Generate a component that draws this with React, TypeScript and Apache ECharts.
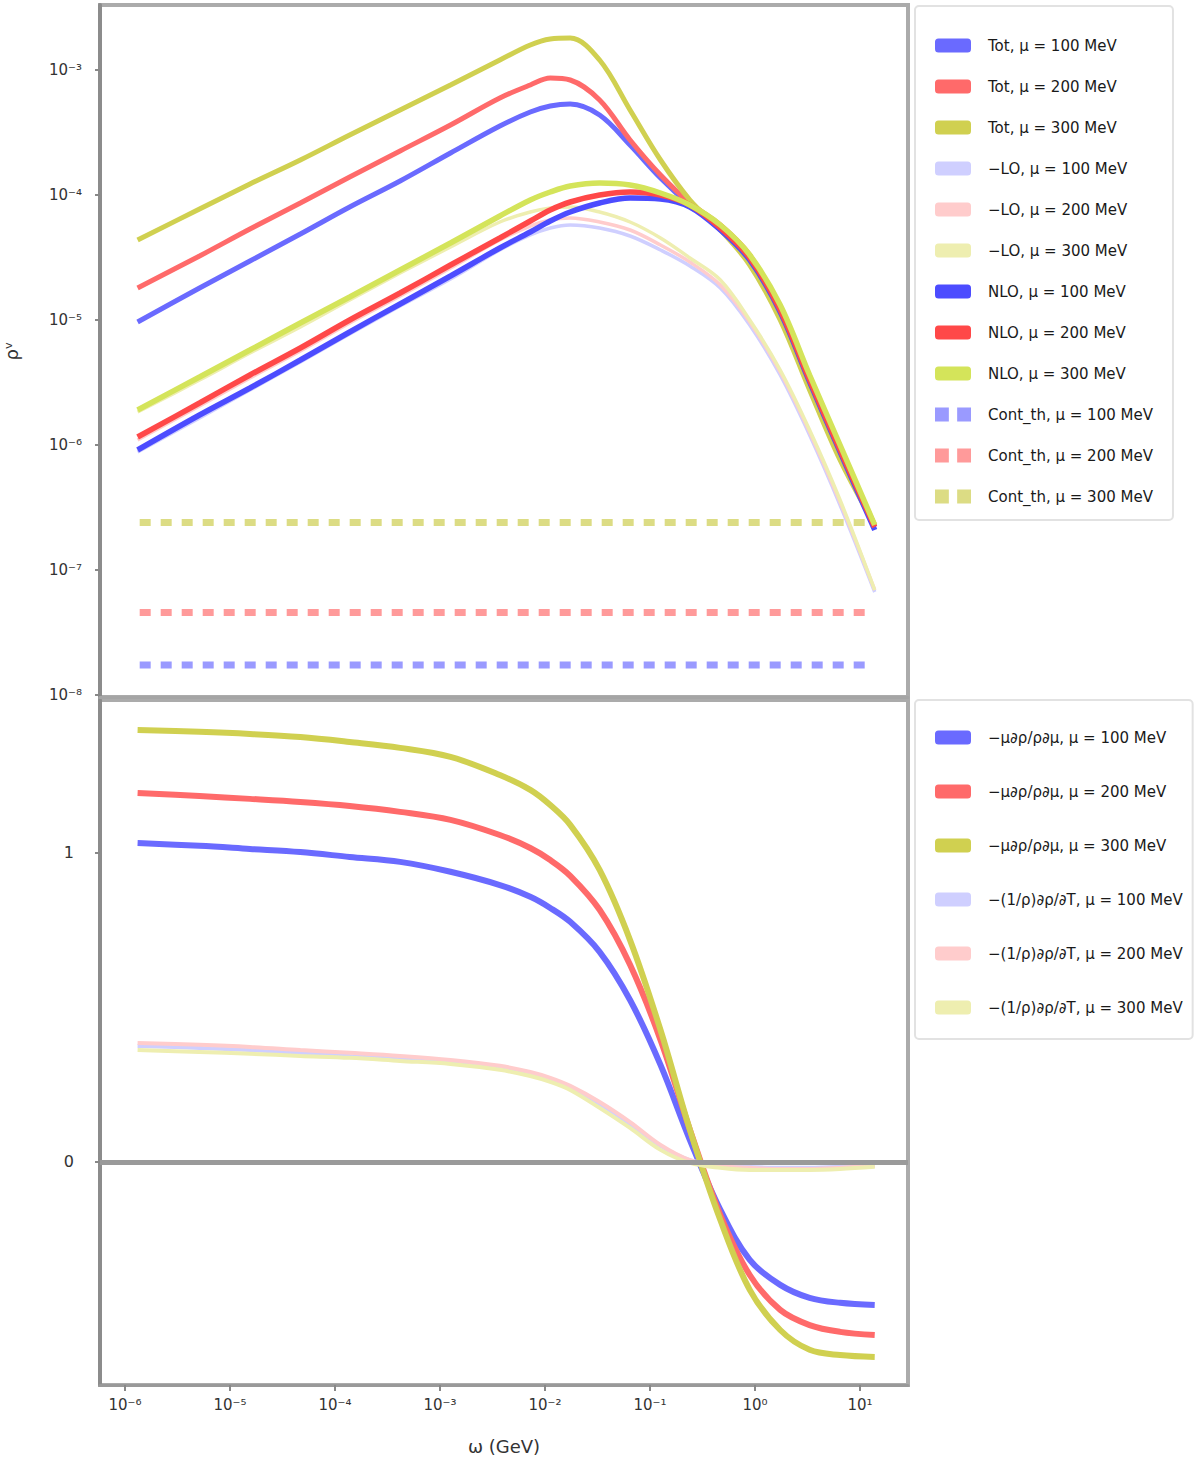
import React, { useEffect, useRef } from "react";
import * as echarts from "echarts";

// x positions (log10 of k0)
const logK = [-5.88, -5.29, -4.81, -4.33, -3.86, -3.38, -2.9, -2.43, -2.14, -1.95, -1.76, -1.48, -1.19, -0.9, -0.62, -0.33, -0.05, 0.24, 0.52, 0.81, 1.14];
const muVals = [100, 200, 300];
const xTickExps = [-6, -5, -4, -3, -2, -1, 0, 1];
const topTickExps = [-8, -7, -6, -5, -4, -3];
const bottomTicks = [0, 1];

// top panel, log10 values
const totBlue = [-5.016, -4.744, -4.528, -4.312, -4.096, -3.888, -3.664, -3.448, -3.336, -3.288, -3.272, -3.36, -3.6, -3.864, -4.08, -4.264, -4.504, -4.936, -5.496, -6.056, -6.656];
const totRed = [-4.744, -4.488, -4.272, -4.064, -3.856, -3.648, -3.44, -3.224, -3.12, -3.064, -3.08, -3.24, -3.56, -3.84, -4.064, -4.24, -4.48, -4.92, -5.48, -6.04, -6.64];
const totYellow = [-4.36, -4.112, -3.912, -3.72, -3.52, -3.32, -3.12, -2.92, -2.8, -2.752, -2.744, -2.92, -3.32, -3.72, -4.04, -4.28, -4.56, -5.0, -5.56, -6.12, -6.64];

const negBlue = [-6.056, -5.784, -5.56, -5.336, -5.112, -4.888, -4.672, -4.44, -4.32, -4.264, -4.24, -4.264, -4.328, -4.44, -4.568, -4.744, -5.04, -5.44, -5.92, -6.48, -7.176];
const negRed = [-5.96, -5.688, -5.464, -5.248, -5.024, -4.808, -4.584, -4.36, -4.248, -4.2, -4.184, -4.216, -4.28, -4.4, -4.536, -4.72, -5.016, -5.416, -5.896, -6.456, -7.16];
const negYellow = [-5.736, -5.48, -5.264, -5.056, -4.84, -4.624, -4.416, -4.216, -4.136, -4.104, -4.096, -4.136, -4.216, -4.344, -4.504, -4.68, -5.0, -5.4, -5.88, -6.44, -7.16];

const nloBlue = [-6.04, -5.76, -5.544, -5.32, -5.096, -4.872, -4.648, -4.424, -4.296, -4.208, -4.136, -4.064, -4.024, -4.032, -4.096, -4.28, -4.52, -4.936, -5.496, -6.056, -6.68];
const nloRed = [-5.936, -5.664, -5.44, -5.224, -5.0, -4.784, -4.56, -4.344, -4.208, -4.12, -4.056, -4.0, -3.976, -4.0, -4.08, -4.264, -4.504, -4.92, -5.48, -6.04, -6.656];
const nloYellow = [-5.72, -5.456, -5.24, -5.024, -4.816, -4.6, -4.384, -4.168, -4.04, -3.976, -3.928, -3.904, -3.92, -3.984, -4.08, -4.24, -4.48, -4.88, -5.44, -6.0, -6.64];

const thX = [-5.86, 1.1];
const thLevels = [-7.76, -7.34, -6.62];

// bottom panel
const derivBlue = [1.032, 1.023, 1.013, 1.003, 0.987, 0.971, 0.939, 0.896, 0.858, 0.822, 0.777, 0.68, 0.524, 0.314, 0.071, -0.155, -0.317, -0.398, -0.44, -0.456, -0.463];
const derivRed = [1.194, 1.184, 1.175, 1.165, 1.152, 1.133, 1.107, 1.058, 1.016, 0.977, 0.926, 0.816, 0.638, 0.395, 0.104, -0.172, -0.366, -0.479, -0.528, -0.55, -0.56];
const derivYellow = [1.398, 1.392, 1.385, 1.375, 1.359, 1.34, 1.311, 1.252, 1.204, 1.155, 1.091, 0.945, 0.718, 0.427, 0.104, -0.188, -0.414, -0.544, -0.608, -0.625, -0.631];
const logDerivBlue = [0.375, 0.369, 0.362, 0.353, 0.343, 0.333, 0.324, 0.304, 0.285, 0.265, 0.239, 0.188, 0.123, 0.052, 0.006, -0.01, -0.016, -0.019, -0.019, -0.016, -0.01];
const logDerivRed = [0.385, 0.379, 0.372, 0.362, 0.353, 0.343, 0.33, 0.311, 0.291, 0.272, 0.246, 0.194, 0.129, 0.055, 0.006, -0.013, -0.019, -0.023, -0.023, -0.019, -0.013];
const logDerivYellow = [0.362, 0.356, 0.35, 0.343, 0.337, 0.327, 0.317, 0.298, 0.278, 0.259, 0.233, 0.175, 0.11, 0.039, -0.003, -0.019, -0.026, -0.026, -0.026, -0.023, -0.016];

const C_MAIN = ["#6a6aff", "#ff6a6a", "#d0d050"];
const C_NLO = ["#4c4cff", "#ff4848", "#d4e45a"];
const C_LIGHT = ["#cfcfff", "#ffcccc", "#eeeeb0"];
const C_DASH = ["#9a9aff", "#ff9a9a", "#dcdc84"];

const SUP: Record<string, string> = { "-": "⁻", "0": "⁰", "1": "¹", "2": "²", "3": "³", "4": "⁴", "5": "⁵", "6": "⁶", "7": "⁷", "8": "⁸", "9": "⁹" };
const pow10 = (v: number) => "10" + String(Math.round(v)).split("").map((c) => SUP[c] ?? c).join("");

const zip = (ys: number[]) => logK.map((x, i) => [x, ys[i]]);

export default function App() {
  const ref = useRef<HTMLDivElement>(null);
  useEffect(() => {
    document.body.style.margin = "0";
    const chart = echarts.init(ref.current!, null, { renderer: "svg" });

    const topNames: string[] = [];
    const topIcons: string[] = [];
    const series: any[] = [];
    const groups = [
      { label: "Tot", sets: [totBlue, totRed, totYellow], colors: C_MAIN, width: 5, icon: "roundRect" },
      { label: "−LO", sets: [negBlue, negRed, negYellow], colors: C_LIGHT, width: 3.5, icon: "roundRect" },
      { label: "NLO", sets: [nloBlue, nloRed, nloYellow], colors: C_NLO, width: 5.5, icon: "roundRect" },
    ];
    groups.forEach((g) => {
      g.sets.forEach((ys, i) => {
        const name = `${g.label}, μ = ${muVals[i]} MeV`;
        topNames.push(name);
        topIcons.push(g.icon);
        series.push({
          name, type: "line", xAxisIndex: 0, yAxisIndex: 0, data: zip(ys),
          showSymbol: false, smooth: 0.35, color: g.colors[i],
          lineStyle: { width: g.width, color: g.colors[i] },
        });
      });
    });
    thLevels.forEach((lv, i) => {
      const name = `Cont_th, μ = ${muVals[i]} MeV`;
      topNames.push(name);
      topIcons.push("path://M0,0H10V10H0Z M16,0H26V10H16Z");
      series.push({
        name, type: "line", xAxisIndex: 0, yAxisIndex: 0,
        data: thX.map((x) => [x, lv]), showSymbol: false, color: C_DASH[i],
        lineStyle: { width: 7, type: [11, 10], color: C_DASH[i] },
      });
    });

    const botNames: string[] = [];
    const botGroups = [
      { label: "−μ∂ρ/ρ∂μ", sets: [derivBlue, derivRed, derivYellow], colors: C_MAIN, width: 6 },
      { label: "−(1/ρ)∂ρ/∂T", sets: [logDerivBlue, logDerivRed, logDerivYellow], colors: C_LIGHT, width: 4 },
    ];
    botGroups.forEach((g) => {
      g.sets.forEach((ys, i) => {
        const name = `${g.label}, μ = ${muVals[i]} MeV`;
        botNames.push(name);
        series.push({
          name, type: "line", xAxisIndex: 1, yAxisIndex: 1, data: zip(ys),
          showSymbol: false, smooth: 0.35, color: g.colors[i],
          lineStyle: { width: g.width, color: g.colors[i] },
        });
      });
    });
    series.push({
      type: "line", xAxisIndex: 1, yAxisIndex: 1, data: [], silent: true,
      markLine: { silent: true, symbol: "none", label: { show: false },
        lineStyle: { color: "#9a9a9a", width: 5, type: "solid" }, data: [{ yAxis: 0 }] },
      z: 1,
    });

    const xMin = -6.238, xMax = 1.457;
    const legendText = { color: "#1a1a1a", fontSize: 15, fontFamily: "DejaVu Sans", padding: [0, 0, 0, 12] };
    chart.setOption({
      animation: false,
      backgroundColor: "#ffffff",
      textStyle: { fontFamily: "DejaVu Sans" },
      grid: [
        { left: 100, top: 5, width: 808, height: 692, show: true, borderColor: "#ababab", borderWidth: 4, outerBoundsMode: "none", containLabel: false },
        { left: 100, top: 700, width: 808, height: 685, show: true, borderColor: "#ababab", borderWidth: 4, outerBoundsMode: "none", containLabel: false },
      ],
      xAxis: [
        { type: "value", gridIndex: 0, min: xMin, max: xMax, axisLabel: { show: false }, axisTick: { show: false }, splitLine: { show: false }, axisLine: { onZero: false, lineStyle: { color: "#a5a5a5", width: 3 } } },
        {
          type: "value", gridIndex: 1, min: xMin, max: xMax, splitLine: { show: false },
          axisLine: { onZero: false, lineStyle: { color: "#999", width: 3 } },
          axisTick: { customValues: xTickExps, length: 6, lineStyle: { color: "#888", width: 2 } },
          axisLabel: { customValues: xTickExps, formatter: (v: number) => pow10(v), fontSize: 15, color: "#333", margin: 12 },
          name: "ω (GeV)", nameLocation: "middle", nameGap: 52, nameTextStyle: { fontSize: 18, color: "#333" },
        },
      ],
      yAxis: [
        {
          type: "value", gridIndex: 0, min: -8.016, max: -2.48, splitLine: { show: false },
          axisLine: { show: true, onZero: false, lineStyle: { color: "#8c8c8c", width: 4 } },
          axisTick: { show: true, customValues: topTickExps, length: 5, lineStyle: { color: "#888", width: 2 } },
          axisLabel: { customValues: topTickExps, formatter: (v: number) => pow10(v), fontSize: 15, color: "#333", margin: 18 },
          name: "ρᵛ", nameLocation: "middle", nameGap: 80, nameRotate: 90, nameTextStyle: { fontSize: 18, color: "#333" },
        },
        {
          type: "value", gridIndex: 1, min: -0.722, max: 1.495, splitLine: { show: false },
          axisLine: { show: true, onZero: false, lineStyle: { color: "#8c8c8c", width: 4 } },
          axisTick: { show: true, customValues: bottomTicks, length: 5, lineStyle: { color: "#888", width: 2 } },
          axisLabel: { customValues: bottomTicks, fontSize: 16, color: "#333", margin: 26 },
        },
      ],
      legend: [
        {
          orient: "vertical", left: 915, top: 6, itemWidth: 36, itemHeight: 14, itemGap: 26,
          padding: [32, 20, 16, 20], backgroundColor: "#fff", borderColor: "#e2e2e2", borderWidth: 2, borderRadius: 4,
          textStyle: legendText,
          data: topNames.map((n, i) => ({ name: n, icon: topIcons[i] })),
        },
        {
          orient: "vertical", left: 915, top: 700, itemWidth: 36, itemHeight: 14, itemGap: 39,
          padding: [30, 10, 24, 20], backgroundColor: "#fff", borderColor: "#e2e2e2", borderWidth: 2, borderRadius: 4,
          textStyle: legendText,
          data: botNames.map((n) => ({ name: n, icon: "roundRect" })),
        },
      ],
      series,
    });
    return () => chart.dispose();
  }, []);
  return <div ref={ref} style={{ width: 1200, height: 1464 }} />;
}
